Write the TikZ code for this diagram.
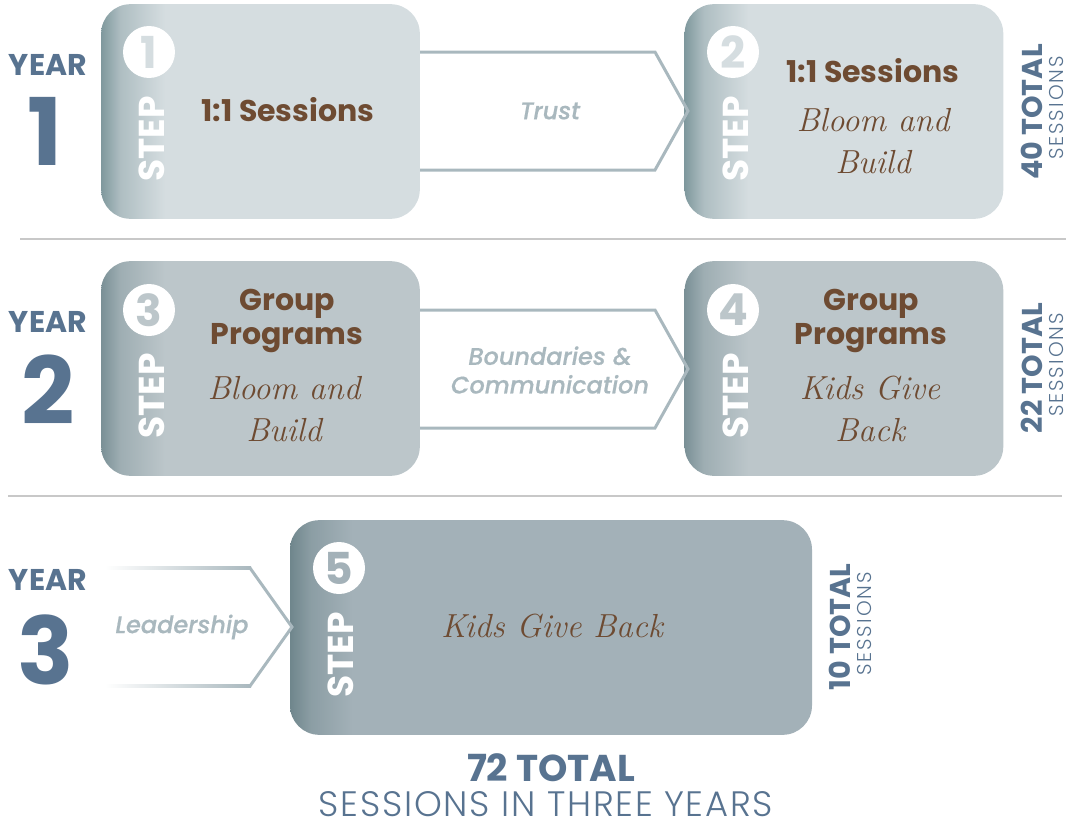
\documentclass[tikz,border=0pt]{standalone}
\usepackage{fontspec}
\setsansfont{Poppins}
\newfontfamily\thinfont{Poppins Light}
\newfontfamily\midfont{Poppins Medium}[FakeBold=0.6]
\usetikzlibrary{positioning}

\definecolor{yearblue}{HTML}{587390}
\definecolor{textbrown}{HTML}{6E4B32}
\definecolor{arrowgray}{HTML}{A9B8BE}
\definecolor{rulegray}{HTML}{C8C8C8}
\definecolor{paleA}{HTML}{D5DDE0}
\definecolor{paleB}{HTML}{BCC6CA}
\definecolor{paleC}{HTML}{A3B1B8}
\definecolor{edgeA}{HTML}{7F989D}
\definecolor{edgeB}{HTML}{7A9096}
\definecolor{edgeC}{HTML}{6F868C}

% left-edge fade of each step box (25bp = left edge, 75bp = right edge)
\pgfdeclarehorizontalshading{fadeA}{100bp}{color(0bp)=(edgeA); color(25bp)=(edgeA);
  color(28bp)=(edgeA!45!paleA); color(35bp)=(paleA); color(100bp)=(paleA)}
\pgfdeclarehorizontalshading{fadeB}{100bp}{color(0bp)=(edgeB); color(25bp)=(edgeB);
  color(28bp)=(edgeB!45!paleB); color(35bp)=(paleB); color(100bp)=(paleB)}
\pgfdeclarehorizontalshading{fadeC}{100bp}{color(0bp)=(edgeC); color(25bp)=(edgeC);
  color(27bp)=(edgeC!45!paleC); color(31bp)=(paleC); color(100bp)=(paleC)}

\begin{document}
\begin{tikzpicture}[x=0.75pt,y=-0.75pt]
\tikzstyle{stepbox} = [rounded corners=22pt, minimum width=239pt, minimum height=161pt, inner sep=0]
\tikzstyle{stepnum} = [circle, fill=white, minimum size=39pt, inner sep=0, font=\sffamily\bfseries\fontsize{33}{33}\selectfont]
\tikzstyle{steplabel} = [rotate=90, white, inner sep=0, font=\sffamily\bfseries\fontsize{27}{27}\selectfont]
\tikzstyle{title} = [textbrown, align=center, inner sep=0, font=\sffamily\bfseries\fontsize{22.5}{25.5}\selectfont]
\tikzstyle{hand} = [textbrown, align=center, inner sep=0, font=\rmfamily\itshape\fontsize{25}{31.5}\selectfont]
\tikzstyle{chevron} = [arrowgray, line width=2.25pt, line join=miter]
\tikzstyle{passlabel} = [arrowgray, align=center, inner sep=0, font=\midfont\itshape\fontsize{18}{21.5}\selectfont]
\tikzstyle{yearword} = [yearblue, inner sep=0, font=\sffamily\bfseries\fontsize{22.5}{22.5}\selectfont]
\tikzstyle{yearnum} = [yearblue, inner sep=0, font=\sffamily\bfseries\fontsize{70}{70}\selectfont]
\tikzstyle{totalnum} = [yearblue, rotate=90, inner sep=0, font=\sffamily\bfseries\fontsize{21.5}{21.5}\selectfont]
\tikzstyle{totalword} = [yearblue, rotate=90, inner sep=0, font=\thinfont\addfontfeature{LetterSpace=10}\fontsize{15}{15}\selectfont]
\tikzstyle{divider} = [rulegray, line width=1.1pt]

\useasboundingbox (0,0) rectangle (1068,828);

% separators
\draw [divider] (20,239) -- (1066,239);
\draw [divider] (8,496) -- (1062,496);

% year labels
\node (y1w)[yearword] at (48,65) {YEAR};
\node (y1n)[yearnum] at (45,131) {1};
\node (y2w)[yearword] at (48,322) {YEAR};
\node (y2n)[yearnum] at (48,390) {2};
\node (y3w)[yearword] at (48,580) {YEAR};
\node (y3n)[yearnum] at (46,650) {3};

% step boxes
\node (box1)[stepbox, shading=fadeA] at (260.5,111.5) {};
\node (box2)[stepbox, shading=fadeA, right of=box1, node distance=437.6pt] {};
\node (box3)[stepbox, shading=fadeB, below of=box1, node distance=192.75pt] {};
\node (box4)[stepbox, shading=fadeB, right of=box3, node distance=437.6pt] {};
\node (box5)[stepbox, shading=fadeC, minimum width=391.5pt] at (551,627.5) {};

% passages between steps
\coordinate (tip1) at (688,111);
\coordinate (tip2) at (688,369);
\coordinate (tip3) at (292,627);
\draw [chevron] (box1.east |- 0,52) -- (655,52) -- (tip1) -- (655,170) -- (box1.east |- 0,170);
\draw [chevron] (box3.east |- 0,310) -- (655,310) -- (tip2) -- (655,428) -- (box3.east |- 0,428);
\draw [chevron] (250,568) -- (tip3) -- (250,686);
\shade [left color=white, right color=arrowgray] (105,566.5) rectangle (251,569.5);
\shade [left color=white, right color=arrowgray] (105,684.5) rectangle (251,687.5);
\node (p1)[passlabel] at (550,111) {Trust};
\node (p2)[passlabel] at (550,370) {Boundaries \&\\Communication};
\node (p3)[passlabel] at (182,627) {Leadership};

% step numbers
\node (n1)[stepnum, text=paleA] at (149,52) {1};
\node (n2)[stepnum, text=paleA] at (733,52) {2};
\node (n3)[stepnum, text=paleB] at (149,310) {3};
\node (n4)[stepnum, text=paleB] at (733,310) {4};
\node (n5)[stepnum, text=paleC] at (339,568) {5};
\node (s1)[steplabel] at (152,139) {STEP};
\node (s2)[steplabel] at (736,139) {STEP};
\node (s3)[steplabel] at (152,396) {STEP};
\node (s4)[steplabel] at (736,396) {STEP};
\node (s5)[steplabel] at (341,655) {STEP};

% box contents
\node (t1)[title] at (288,110) {1:1 Sessions};
\node (t2)[title] at (873,71) {1:1 Sessions};
\node (h2)[hand] at (873,141) {Bloom and\\Build};
\node (t3)[title] at (287,321) {Group\\Programs};
\node (h3)[hand] at (284,409) {Bloom and\\Build};
\node (t4)[title] at (871,321) {Group\\Programs};
\node (h4)[hand] at (870,409) {Kids Give\\Back};
\node (h5)[hand] at (552,626) {Kids Give Back};

% session counts
\node (c1)[totalnum] at (1032,112) {40 TOTAL};
\node (c1s)[totalword] at (1056,108) {SESSIONS};
\node (c2)[totalnum] at (1032,368) {22 TOTAL};
\node (c2s)[totalword] at (1056,365) {SESSIONS};
\node (c3)[totalnum] at (840,627) {10 TOTAL};
\node (c3s)[totalword] at (864,624) {SESSIONS};

\node (sum)[yearblue, inner sep=0, font=\sffamily\bfseries\fontsize{28}{28}\selectfont] at (551,768) {72 TOTAL};
\node (sumw)[yearblue, inner sep=0, font=\thinfont\addfontfeature{LetterSpace=5}\fontsize{26.5}{26.5}\selectfont] at (546,804) {SESSIONS IN THREE YEARS};
\end{tikzpicture}
\end{document}
